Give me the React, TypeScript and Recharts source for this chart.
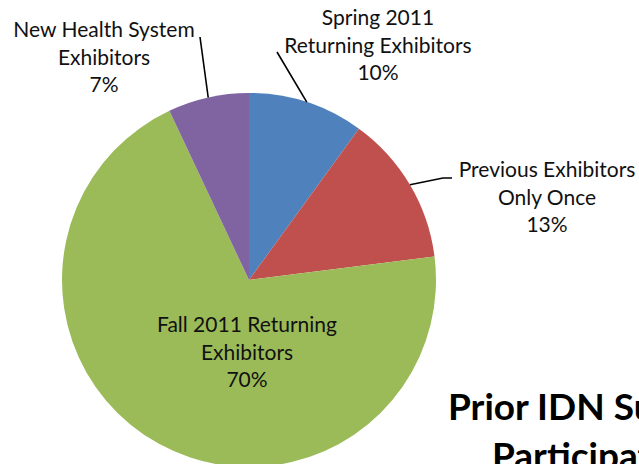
import React from 'react';
import { PieChart, Pie, Cell } from 'recharts';

const categories = [
  'Spring 2011\nReturning Exhibitors',
  'Previous Exhibitors\nOnly Once',
  'Fall 2011 Returning\nExhibitors',
  'New Health System\nExhibitors',
];
const shares = [10, 13, 70, 7];
const colors = ['#4F81BD', '#C0504D', '#9BBB59', '#8064A2'];
const titleLines = ['Prior IDN Survey', 'Participation'];

// label block anchor (centre of first line baseline) and leader-line end, relative to pie centre
const labelPlacement = [
  { dx: 129, dy: -255, line: [[28, -228]] },
  { dx: 298, dy: -103, line: [[194, -102], [203, -102]] },
  { dx: -2, dy: 52, line: null },
  { dx: -145, dy: -243, line: [[-49, -243]] },
];

const data = categories.map((name, i) => ({ name, value: shares[i] }));

const FONT = 'Lato, "Open Sans", sans-serif';
const RAD = Math.PI / 180;

const renderLabel = (props: any) => {
  const { cx, cy, midAngle, outerRadius, percent, index } = props;
  const p = labelPlacement[index];
  const lines = categories[index].split('\n');
  lines.push(`${Math.round(percent * 100)}%`);
  const x = cx + p.dx;
  const y0 = cy + p.dy;
  const ex = cx + outerRadius * Math.cos(-midAngle * RAD);
  const ey = cy + outerRadius * Math.sin(-midAngle * RAD);
  let path = '';
  if (p.line) {
    path = `M${ex},${ey}` + p.line.map((pt) => ` L${cx + pt[0]},${cy + pt[1]}`).join('');
  }
  return (
    <g key={`lbl-${index}`}>
      {path && <path d={path} stroke="#000" strokeWidth={1.6} fill="none" />}
      <text x={x} y={y0} textAnchor="middle" fontFamily={FONT} fontSize={21} fill="#111">
        {lines.map((l, i) => (
          <tspan key={i} x={x} dy={i === 0 ? 0 : 27.5}>
            {l}
          </tspan>
        ))}
      </text>
    </g>
  );
};

export default function App() {
  return (
    <div style={{ position: 'fixed', left: 0, top: 0, width: 639, height: 464, overflow: 'hidden', background: '#fff' }}>
      <PieChart width={639} height={464} margin={{ top: 0, right: 0, bottom: 0, left: 0 }}>
        <Pie
          data={data}
          dataKey="value"
          nameKey="name"
          cx={249}
          cy={280}
          outerRadius={187}
          startAngle={90}
          endAngle={-270}
          stroke="none"
          isAnimationActive={false}
          labelLine={false}
          label={renderLabel}
        >
          {data.map((d, i) => (
            <Cell key={d.name} fill={colors[i]} />
          ))}
        </Pie>
      </PieChart>
      <svg width={639} height={464} style={{ position: 'absolute', left: 0, top: 0, pointerEvents: 'none' }}>
        <text x={448} y={420} fontFamily={FONT} fontWeight="bold" fontSize={37} fill="#000">
          {titleLines[0]}
        </text>
        <text x={492} y={469} fontFamily={FONT} fontWeight="bold" fontSize={37} fill="#000">
          {titleLines[1]}
        </text>
      </svg>
    </div>
  );
}
